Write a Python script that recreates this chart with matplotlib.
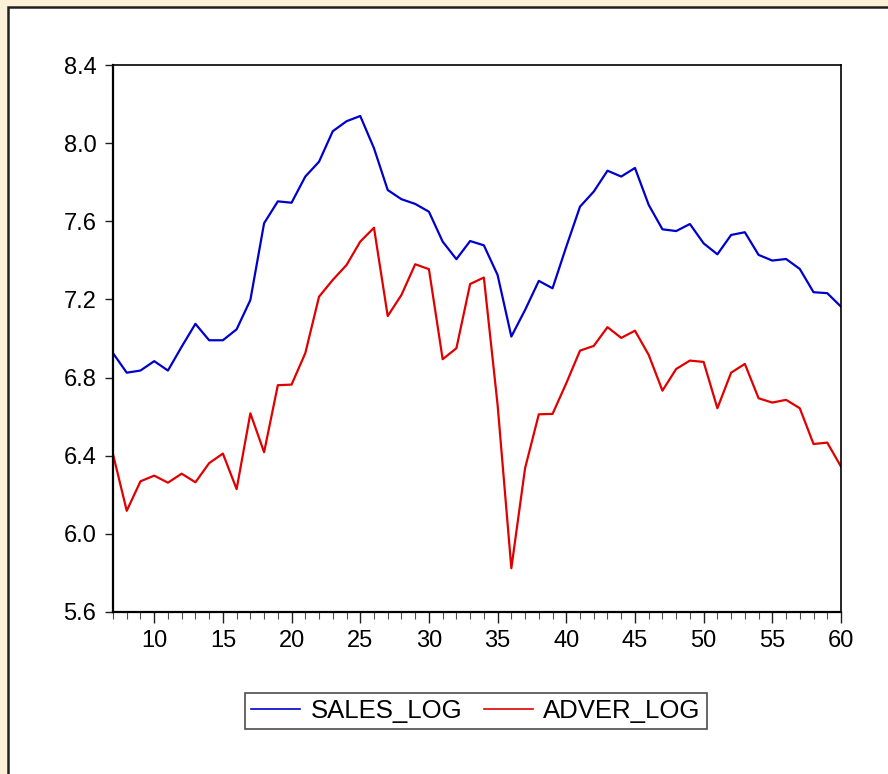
import numpy as np
import matplotlib
matplotlib.use("Agg")
import matplotlib.pyplot as plt
from matplotlib.patches import Rectangle
from matplotlib.ticker import MultipleLocator, FormatStrFormatter

obs = list(range(7, 61))

sales_log = [6.925, 6.825, 6.836, 6.884, 6.836, 6.958, 7.075, 6.991, 6.991, 7.047,
             7.197, 7.590, 7.702, 7.695, 7.829, 7.905, 8.061, 8.112, 8.139, 7.974,
             7.760, 7.713, 7.689, 7.649, 7.496, 7.406, 7.499, 7.477, 7.325, 7.010,
             7.146, 7.295, 7.257, 7.470, 7.675, 7.752, 7.859, 7.829, 7.873, 7.684,
             7.559, 7.550, 7.586, 7.487, 7.431, 7.530, 7.544, 7.428, 7.399, 7.407,
             7.356, 7.237, 7.232, 7.163]

adver_log = [6.408, 6.118, 6.269, 6.298, 6.262, 6.308, 6.264, 6.362, 6.411, 6.229,
             6.617, 6.418, 6.761, 6.764, 6.925, 7.214, 7.300, 7.376, 7.496, 7.567,
             7.115, 7.223, 7.380, 7.355, 6.894, 6.950, 7.279, 7.312, 6.660, 5.824,
             6.336, 6.612, 6.614, 6.771, 6.938, 6.962, 7.058, 7.003, 7.040, 6.916,
             6.733, 6.844, 6.887, 6.880, 6.643, 6.825, 6.870, 6.694, 6.672, 6.686,
             6.643, 6.460, 6.467, 6.344]

plt.rcParams['font.family'] = ['Liberation Sans', 'DejaVu Sans']

W, H = 888, 774
fig = plt.figure(figsize=(W / 100, H / 100), dpi=100)
fig.patch.set_facecolor("#fdf0d8")

# White graph frame (EViews style), drawn behind the axes
fig.patches.append(Rectangle((8 / W, -0.01), 1.0, 1.01 - 7 / H, transform=fig.transFigure,
                             facecolor="white", edgecolor="#202020", linewidth=1.8,
                             zorder=-10))

ax = fig.add_axes([113 / W, 1 - 612 / H, (841 - 113) / W, (612 - 65) / H])
ax.set_facecolor("white")

ax.plot(obs, sales_log, color="#0000cc", linewidth=1.6, label="SALES_LOG")
ax.plot(obs, adver_log, color="#e00000", linewidth=1.6, label="ADVER_LOG")

ax.set_xlim(7, 60)
ax.set_ylim(5.6, 8.4)

ax.xaxis.set_major_locator(MultipleLocator(5))
ax.xaxis.set_minor_locator(MultipleLocator(1))
ax.yaxis.set_major_locator(MultipleLocator(0.4))
ax.yaxis.set_major_formatter(FormatStrFormatter("%.1f"))

ax.tick_params(axis="both", which="major", direction="out", labelsize=17,
               color="#202020", width=1.0)
ax.tick_params(axis="x", which="major", length=8, pad=5)
ax.tick_params(axis="x", which="minor", length=5, width=0.8, color="#505050")
ax.tick_params(axis="y", which="major", length=6, pad=6)

for side in ["left", "bottom"]:
    ax.spines[side].set_linewidth(1.6)
for side in ["right", "top"]:
    ax.spines[side].set_linewidth(1.2)

leg = fig.legend(loc="center", bbox_to_anchor=(476 / W, 1 - 711 / H), ncol=2,
                 fontsize=18.5, frameon=True, fancybox=False, handlelength=1.9,
                 columnspacing=0.85, handletextpad=0.4, borderpad=0.25,
                 borderaxespad=0)
leg.get_frame().set_edgecolor("#202020")
leg.get_frame().set_linewidth(1.2)
for line in leg.get_lines():
    line.set_linewidth(1.2)

plt.savefig("out.png", dpi=100, facecolor=fig.get_facecolor())
